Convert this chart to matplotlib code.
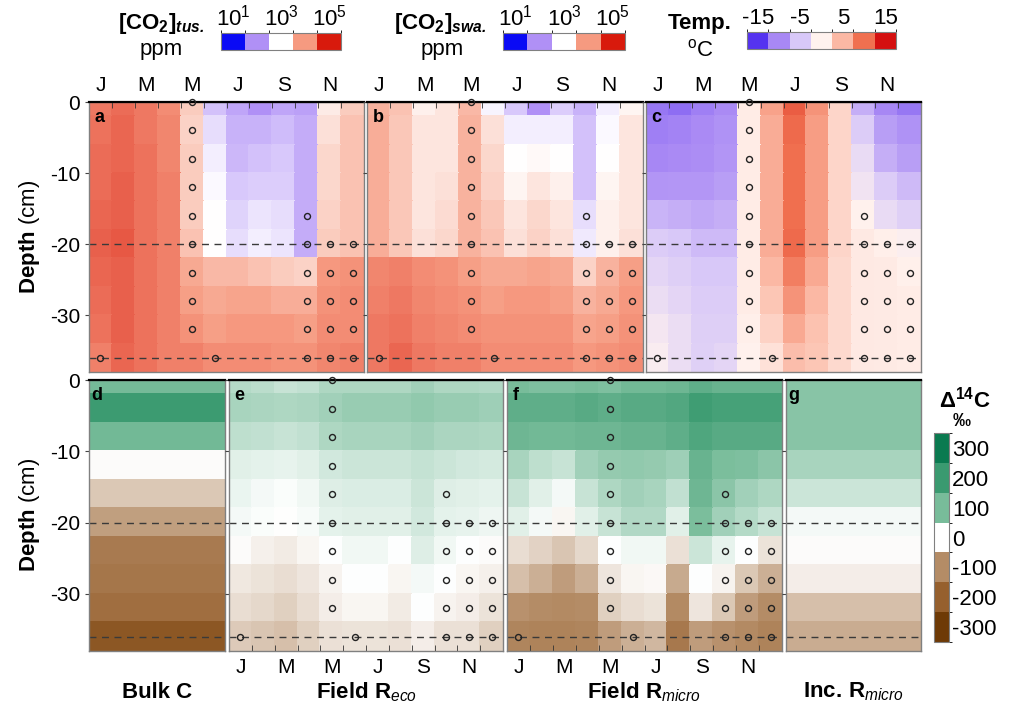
import numpy as np
import matplotlib
matplotlib.use("Agg")
import matplotlib.pyplot as plt
from matplotlib.colors import LinearSegmentedColormap, ListedColormap, Normalize, BoundaryNorm
from matplotlib.cm import ScalarMappable

plt.rcParams["font.family"] = ["Liberation Sans", "DejaVu Sans"]
plt.rcParams["axes.unicode_minus"] = False
plt.rcParams["mathtext.fontset"] = "custom"
plt.rcParams["mathtext.rm"] = "Liberation Sans"
plt.rcParams["mathtext.it"] = "Liberation Sans:italic"
plt.rcParams["mathtext.bf"] = "Liberation Sans:bold"
plt.rcParams["mathtext.bfit"] = "Liberation Sans:bold:italic"

# ---- data -------------------------------------------------------------
month_labels = ["J", "M", "M", "J", "S", "N"]
depths = [0, 4, 8, 12, 16, 20, 24, 28, 32, 36]     # cell centres, cm

# one list per month (Jan..Dec), values by depth 0..36 cm ; log10 ppm
co2_tus_by_month = [
    [4.25, 4.3, 4.35, 4.35, 4.4, 4.45, 4.4, 4.35, 4.3, 4.2],
    [4.35, 4.4, 4.4, 4.45, 4.45, 4.5, 4.45, 4.45, 4.45, 4.4],
    [4.25, 4.25, 4.3, 4.3, 4.3, 4.3, 4.3, 4.3, 4.3, 4.3],
    [4.1, 4.15, 4.15, 4.2, 4.2, 4.2, 4.2, 4.2, 4.2, 4.2],
    [3.5, 3.45, 3.5, 3.5, 3.5, 3.6, 3.85, 3.95, 4.05, 4.2],
    [2.45, 2.7, 2.85, 2.95, 3.0, 3.0, 3.7, 3.85, 3.95, 4.1],
    [2.2, 2.3, 2.35, 2.5, 2.6, 2.7, 3.7, 3.9, 4.0, 4.1],
    [2.0, 2.3, 2.45, 2.55, 2.75, 2.85, 3.6, 3.9, 4.0, 4.1],
    [2.2, 2.4, 2.5, 2.55, 2.7, 2.75, 3.5, 3.8, 4.0, 4.05],
    [2.15, 2.25, 2.25, 2.25, 2.25, 2.25, 3.45, 3.8, 3.95, 4.05],
    [3.2, 3.3, 3.4, 3.4, 3.45, 3.5, 4.0, 4.05, 4.1, 4.15],
    [3.5, 3.6, 3.6, 3.6, 3.6, 3.6, 4.05, 4.1, 4.1, 4.2],
]
co2_swa_by_month = [
    [3.75, 3.8, 3.8, 3.8, 3.8, 3.8, 4.15, 4.2, 4.25, 4.25],
    [3.6, 3.55, 3.55, 3.55, 3.55, 3.55, 4.2, 4.25, 4.3, 4.4],
    [3.15, 3.25, 3.25, 3.25, 3.25, 3.3, 4.1, 4.15, 4.2, 4.25],
    [3.25, 3.25, 3.25, 3.3, 3.35, 3.4, 4.05, 4.1, 4.15, 4.2],
    [3.7, 3.75, 3.75, 3.75, 3.75, 3.75, 3.95, 4.05, 4.1, 4.2],
    [2.9, 3.3, 3.4, 3.45, 3.55, 3.6, 3.85, 3.95, 4.05, 4.1],
    [2.5, 2.85, 3.0, 3.1, 3.25, 3.3, 3.85, 4.0, 4.05, 4.1],
    [2.0, 2.85, 3.05, 3.25, 3.4, 3.45, 3.9, 4.0, 4.05, 4.1],
    [2.55, 2.85, 3.0, 3.15, 3.25, 3.3, 3.85, 3.95, 4.05, 4.1],
    [2.3, 2.45, 2.45, 2.45, 2.7, 2.8, 3.45, 3.75, 3.9, 4.0],
    [2.85, 2.95, 3.0, 3.1, 3.15, 3.15, 3.75, 3.85, 3.95, 4.05],
    [3.1, 3.25, 3.25, 3.25, 3.25, 3.3, 3.95, 4.0, 4.05, 4.1],
]
# soil temperature, deg C
temp_by_month = [
    [-11, -10.5, -10, -9, -6.5, -4.5, -3.5, -2.5, -1.5, -0.8],
    [-11.5, -10.2, -9.8, -8.8, -7, -5, -4.2, -3.5, -2.5, -2.5],
    [-10.5, -9.8, -9.5, -8.8, -7.5, -6, -5, -4.5, -4.2, -4],
    [-9.8, -9.2, -9, -8.3, -7, -6, -5, -4.5, -4.2, -3.5],
    [0.5, 0.5, 0.5, 0.5, 0.5, 0.5, 0.5, 0.5, 0.3, 0.1],
    [6.5, 5.8, 5.8, 5.8, 5.8, 5.8, 5, 3.8, 2.8, 1.5],
    [11, 10.3, 10, 10, 10, 10.3, 9, 7.5, 6, 4.5],
    [7.5, 6.8, 6.8, 6.8, 6.8, 6.8, 6, 5, 4.2, 3.8],
    [2.5, 2.5, 2.5, 2.5, 2.5, 2.5, 2.2, 2.2, 2.2, 2.2],
    [-7, -4.5, -2.8, -1.8, 0, 0.8, 0.8, 0.8, 0.8, 0.8],
    [-10, -8.3, -7, -4.5, -2.8, 0.3, 0.6, 0.6, 0.6, 0.6],
    [-11, -9.2, -8.3, -6, -4, -0.5, 0.2, 0.5, 0.5, 0.5],
]
# delta14C, permil
bulk_c = [105, 195, 110, -4, -47, -84, -140, -150, -167, -225]
inc_rmicro = [88, 88, 88, 65, 38, 8, -4, -15, -55, -72]
reco_by_month = [
    [55, 65, 48, 22, 15, 8, -3, -20, -30, -45],
    [50, 62, 46, 20, 8, 3, -12, -25, -35, -50],
    [42, 60, 42, 18, 3, -1, -18, -30, -40, -55],
    [46, 62, 46, 22, 10, 6, -8, -22, -30, -42],
    [60, 70, 60, 35, 25, 20, 0, -10, -15, -28],
    [60, 75, 65, 38, 28, 22, 10, 0, -8, -25],
    [60, 75, 65, 38, 28, 22, 10, 0, -8, -25],
    [60, 75, 65, 38, 28, 22, 0, -8, -18, -28],
    [70, 80, 70, 44, 38, 35, 25, 8, 0, -15],
    [60, 75, 62, 38, 25, 20, 10, 0, -10, -28],
    [60, 75, 62, 35, 22, 18, 2, -8, -16, -28],
    [58, 72, 60, 32, 20, 12, -3, -12, -24, -40],
]
rmicro_by_month = [
    [100, 140, 115, 65, 42, 22, -30, -55, -95, -115],
    [95, 140, 110, 48, 22, 8, -38, -68, -100, -120],
    [95, 140, 110, 42, 8, -8, -50, -85, -105, -120],
    [100, 150, 115, 68, 42, 22, -35, -68, -100, -115],
    [95, 140, 115, 78, 60, 42, 0, -22, -42, -85],
    [110, 150, 125, 80, 70, 58, 10, -8, -30, -68],
    [110, 150, 125, 78, 65, 58, 10, -5, -25, -62],
    [115, 160, 140, 72, 46, 22, -28, -75, -105, -145],
    [140, 190, 165, 125, 115, 98, 38, 0, -22, -85],
    [125, 180, 150, 98, 85, 68, 18, -10, -48, -95],
    [125, 180, 150, 95, 70, 55, 0, -48, -85, -105],
    [125, 180, 150, 85, 60, 42, -24, -68, -100, -120],
]
# sampling points: month index -> depths
sample_depths = {
    0: [36],
    4: [0, 4, 8, 12, 16, 20, 24, 28, 32],
    5: [36],
    9: [16, 20, 24, 28, 32, 36],
    10: [20, 24, 28, 32, 36],
    11: [20, 24, 28, 32, 36],
}

# colour scales
co2_levels = [1, 2, 3, 4, 5]
co2_colors = ["#0a0af5", "#b090f6", "#ffffff", "#f69a80", "#d81a0c"]
temp_levels = [-15, -10, -5, 0, 5, 10, 15]
temp_colors = ["#5533f0", "#a888f4", "#d8c8f8", "#fff2ee", "#fbb8a4", "#f07050", "#d41010"]
d14_levels = [-300, -200, -100, 0, 100, 200, 300]
d14_colors = ["#6e3a06", "#96602e", "#b48c66", "#ffffff", "#78bc9a", "#3a9a70", "#0a7a50"]


def make_scale(levels, colors):
    lo, hi = levels[0], levels[-1]
    nodes = [((v - lo) / (hi - lo), c) for v, c in zip(levels, colors)]
    return LinearSegmentedColormap.from_list("s", nodes), Normalize(lo, hi)


co2_cmap, co2_norm = make_scale(co2_levels, co2_colors)
temp_cmap, temp_norm = make_scale(temp_levels, temp_colors)
d14_cmap, d14_norm = make_scale(d14_levels, d14_colors)

# ---- figure -----------------------------------------------------------
W, H = 1010, 707
fig = plt.figure(figsize=(W / 100, H / 100), dpi=100)


def box(x0, y0, x1, y1):
    return [x0 / W, 1 - y1 / H, (x1 - x0) / W, (y1 - y0) / H]


def ftext(x, y, s, **kw):
    fig.text(x / W, 1 - y / H, s, **kw)


GRAY = "#808080"


def panel(rect, data, cmap, norm, letter, months=True, xlab=None, ylab=False):
    ax = fig.add_axes(rect)
    data = np.asarray(data, dtype=float)
    if data.ndim == 1:
        data = data[:, None]
    nr, nc = data.shape
    y_edges = 2 - 4 * np.arange(nr + 1)
    ax.pcolormesh(np.arange(nc + 1), y_edges, data, cmap=cmap, norm=norm,
                  shading="flat", edgecolors="face", linewidth=0.3)
    ax.set_xlim(0, nc)
    ax.set_ylim(-38, 0)
    for d in (-20, -36):
        ax.axhline(d, color="#3a3a3a", lw=1.0, ls=(0, (5, 4)))
    ax.axhline(0, color="k", lw=1.6, clip_on=False, zorder=5)
    if months:
        for m, ds in sample_depths.items():
            ax.plot([m + 0.5] * len(ds), -np.array(ds), "o", ms=4.3, mfc="none",
                    mec="#222222", mew=1.0, clip_on=False, zorder=6)
    for s in ax.spines.values():
        s.set_color(GRAY)
        s.set_linewidth(1.0)
    ax.set_yticks([0, -10, -20, -30])
    ax.tick_params(axis="y", direction="out", length=3, color="#444444",
                   labelsize=15, labelleft=ylab)
    if months and xlab is not None:
        ax.set_xticks(np.arange(0, 12, 2) + 0.5)
        ax.set_xticklabels(month_labels)
        ax.set_xticks(np.arange(1, 12), minor=True)
        if xlab == "top":
            ax.tick_params(axis="x", which="both", bottom=False, top=True,
                           labelbottom=False, labeltop=True)
        ax.tick_params(axis="x", which="major", length=0, labelsize=15, pad=5)
        ax.tick_params(axis="x", which="minor", direction="in", length=4,
                       color="#333333")
    else:
        ax.set_xticks([])
    ax.text(0.02, 0.975, letter, transform=ax.transAxes, fontsize=13,
            fontweight="bold", va="top", ha="left", zorder=7)
    return ax


def T(lists):
    return np.array(lists).T


panel(box(89, 102, 364, 372), T(co2_tus_by_month), co2_cmap, co2_norm, "a", xlab="top", ylab=True)
panel(box(367, 102, 643, 372), T(co2_swa_by_month), co2_cmap, co2_norm, "b", xlab="top")
panel(box(646, 102, 921, 372), T(temp_by_month), temp_cmap, temp_norm, "c", xlab="top")
panel(box(89, 380, 225, 651), bulk_c, d14_cmap, d14_norm, "d", months=False, ylab=True)
panel(box(229, 380, 503, 651), T(reco_by_month), d14_cmap, d14_norm, "e", xlab="bottom")
panel(box(507, 380, 782, 651), T(rmicro_by_month), d14_cmap, d14_norm, "f", xlab="bottom")
panel(box(786, 380, 921, 651), inc_rmicro, d14_cmap, d14_norm, "g", months=False)

# axis labels
for yc in (237, 515):
    ftext(30, yc, r"$\mathbf{Depth}$ (cm)", rotation=90, ha="center", va="center",
          fontsize=16)
ftext(157, 692, "Bulk C", ha="center", va="center", fontsize=16, fontweight="bold")
ftext(366, 692, r"$\mathbf{Field\ R}_{\mathit{eco}}$", ha="center", va="center", fontsize=16)
ftext(644, 692, r"$\mathbf{Field\ R}_{\mathit{micro}}$", ha="center", va="center", fontsize=16)
ftext(853, 692, r"$\mathbf{Inc.\,R}_{\mathit{micro}}$", ha="center", va="center", fontsize=16)


# discrete legend bars
def legend_bar(rect, levels, colors, ticks, labels, orient="horizontal"):
    cax = fig.add_axes(rect)
    step = levels[1] - levels[0]
    bounds = [levels[0] - step / 2] + [v + step / 2 for v in levels]
    sm = ScalarMappable(norm=BoundaryNorm(bounds, len(colors)), cmap=ListedColormap(colors))
    cb = fig.colorbar(sm, cax=cax, orientation=orient, ticks=ticks)
    cb.outline.set_edgecolor(GRAY)
    cb.outline.set_linewidth(0.8)
    if orient == "horizontal":
        cax.xaxis.set_ticks_position("top")
    cb.set_ticklabels(labels)
    cax.tick_params(length=0, labelsize=16, pad=2)
    return cb


co2_ticks = [1, 3, 5]
co2_ticklabels = [r"$10^1$", r"$10^3$", r"$10^5$"]
legend_bar(box(221, 33, 341, 50), co2_levels, co2_colors, co2_ticks, co2_ticklabels)
legend_bar(box(503, 33, 625, 50), co2_levels, co2_colors, co2_ticks, co2_ticklabels)
temp_ticks = [-15, -5, 5, 15]
legend_bar(box(747, 32, 896, 49), temp_levels, temp_colors, temp_ticks,
           [str(t) for t in temp_ticks])
legend_bar(box(934, 433, 949, 642), d14_levels, d14_colors, d14_levels,
           [str(t) for t in d14_levels], orient="vertical")

ftext(161, 24, r"$\mathbf{[CO_2]}_{\mathbfit{tus.}}$", ha="center", va="center", fontsize=16)
ftext(161, 50, "ppm", ha="center", va="center", fontsize=16)
ftext(440, 24, r"$\mathbf{[CO_2]}_{\mathbfit{swa.}}$", ha="center", va="center", fontsize=16)
ftext(442, 50, "ppm", ha="center", va="center", fontsize=16)
ftext(700, 24, "Temp.", ha="center", va="center", fontsize=16, fontweight="bold")
ftext(700, 50, r"$^{\mathrm{o}}$C", ha="center", va="center", fontsize=16)
ftext(965, 400, r"$\mathbf{Δ^{14}C}$", ha="center", va="center", fontsize=16)
ftext(962, 421, "‰", ha="center", va="center", fontsize=13, fontweight="bold")

fig.savefig("out.png", dpi=100)
